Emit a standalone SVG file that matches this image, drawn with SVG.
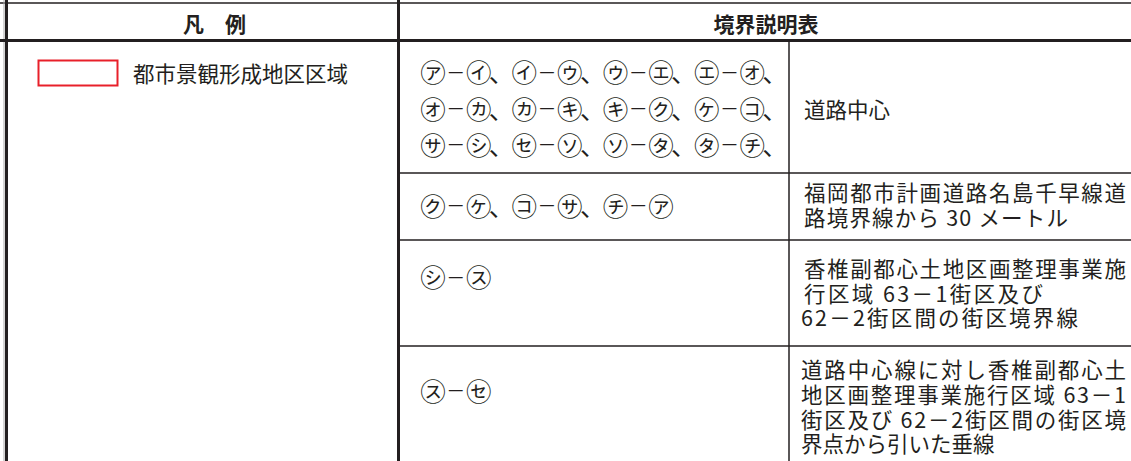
<svg xmlns="http://www.w3.org/2000/svg" width="1131" height="461" viewBox="0 0 1131 461">
<style>
.t{font-family:"Noto Sans CJK JP","Noto Sans CJK SC",sans-serif;font-size:21.5px;fill:#231f20}
.k{font-family:"Noto Sans CJK JP","Noto Sans CJK SC",sans-serif;font-size:25.5px;fill:#231f20}
.d{font-size:19px}
.h{font-family:"Noto Sans CJK JP","Noto Sans CJK SC",sans-serif;font-size:21px;font-weight:bold;fill:#231f20}
.thick{stroke:#231f20;stroke-width:3;fill:none}
.thin{stroke:#231f20;stroke-width:1.5;fill:none}
</style>
<rect width="1131" height="461" fill="#fff"/>
<g id="grid">
<line x1="0" y1="3" x2="1131" y2="3" class="thin" stroke-width="2"/>
<line x1="4" y1="0" x2="4" y2="461" stroke="#aaa" stroke-width="1"/>
<line x1="6.5" y1="0" x2="6.5" y2="461" class="thick" stroke-width="2.5"/>
<line x1="0" y1="40.5" x2="1131" y2="40.5" class="thick"/>
<line x1="398.5" y1="0" x2="398.5" y2="461" class="thick" stroke-width="2.5"/>
<line x1="789" y1="40" x2="789" y2="461" class="thin" stroke-width="1.3"/>
<line x1="398" y1="173" x2="1131" y2="173" class="thin"/>
<line x1="398" y1="240" x2="1131" y2="240" class="thin"/>
<line x1="398" y1="346" x2="1131" y2="346" class="thin"/>
</g>
<g id="header-legend">
<text x="183" y="32" class="h">凡</text>
<text x="225" y="32" class="h">例</text>
</g>
<g id="header-table">
<text x="766" y="32" class="h" text-anchor="middle">境界説明表</text>
</g>
<g id="legend">
<rect x="38.5" y="60.5" width="79" height="25" fill="none" stroke="#e8202a" stroke-width="2"/>
<text x="133" y="82" class="t" font-size="22">都市景観形成地区区域</text>
</g>
<g id="row1">
<text class="k"><tspan x="420.3" y="82.2">㋐</tspan><tspan class="d" x="446.3" y="79.7">－</tspan><tspan x="465.9 488.7 511.5" y="82.2">㋑、㋑</tspan><tspan class="d" x="537.5" y="79.7">－</tspan><tspan x="557.1 579.9 602.7" y="82.2">㋒、㋒</tspan><tspan class="d" x="628.7" y="79.7">－</tspan><tspan x="648.3 671.1 693.9" y="82.2">㋓、㋓</tspan><tspan class="d" x="719.9" y="79.7">－</tspan><tspan x="739.5 762.3" y="82.2">㋔、</tspan></text>
<text class="k"><tspan x="420.3" y="118.5">㋔</tspan><tspan class="d" x="446.3" y="116">－</tspan><tspan x="465.9 488.7 511.5" y="118.5">㋕、㋕</tspan><tspan class="d" x="537.5" y="116">－</tspan><tspan x="557.1 579.9 602.7" y="118.5">㋖、㋖</tspan><tspan class="d" x="628.7" y="116">－</tspan><tspan x="648.3 671.1 693.9" y="118.5">㋗、㋘</tspan><tspan class="d" x="719.9" y="116">－</tspan><tspan x="739.5 762.3" y="118.5">㋙、</tspan></text>
<text class="k"><tspan x="420.3" y="154.8">㋚</tspan><tspan class="d" x="446.3" y="152.3">－</tspan><tspan x="465.9 488.7 511.5" y="154.8">㋛、㋝</tspan><tspan class="d" x="537.5" y="152.3">－</tspan><tspan x="557.1 579.9 602.7" y="154.8">㋞、㋞</tspan><tspan class="d" x="628.7" y="152.3">－</tspan><tspan x="648.3 671.1 693.9" y="154.8">㋟、㋟</tspan><tspan class="d" x="719.9" y="152.3">－</tspan><tspan x="739.5 762.3" y="154.8">㋠、</tspan></text>
<text x="804" y="118" class="t">道路中心</text>
</g>
<g id="row2">
<text class="k"><tspan x="420.3" y="215.7">㋗</tspan><tspan class="d" x="446.3" y="213.2">－</tspan><tspan x="465.9 488.7 511.5" y="215.7">㋘、㋙</tspan><tspan class="d" x="537.5" y="213.2">－</tspan><tspan x="557.1 579.9 602.7" y="215.7">㋚、㋠</tspan><tspan class="d" x="628.7" y="213.2">－</tspan><tspan x="648.3" y="215.7">㋐</tspan></text>
<text x="804" y="201" class="t" textLength="322" lengthAdjust="spacing">福岡都市計画道路名島千早線道</text>
<text x="804" y="226" class="t" textLength="264" lengthAdjust="spacing">路境界線から 30 メートル</text>
</g>
<g id="row3">
<text class="k"><tspan x="420.3" y="287.2">㋛</tspan><tspan class="d" x="446.3" y="284.7">－</tspan><tspan x="465.9" y="287.2">㋜</tspan></text>
<text x="804" y="277" class="t" textLength="322" lengthAdjust="spacing">香椎副都心土地区画整理事業施</text>
<text x="804" y="302" class="t" textLength="239" lengthAdjust="spacing">行区域 63－1街区及び</text>
<text x="801" y="326" class="t" textLength="277" lengthAdjust="spacing">62－2街区間の街区境界線</text>
</g>
<g id="row4">
<text class="k"><tspan x="420.3" y="400.7">㋜</tspan><tspan class="d" x="446.3" y="398.2">－</tspan><tspan x="465.9" y="400.7">㋝</tspan></text>
<text x="801" y="378" class="t" textLength="325" lengthAdjust="spacing">道路中心線に対し香椎副都心土</text>
<text x="801" y="403" class="t" textLength="325" lengthAdjust="spacing">地区画整理事業施行区域 63－1</text>
<text x="801" y="427.5" class="t" textLength="325" lengthAdjust="spacing">街区及び 62－2街区間の街区境</text>
<text x="801" y="451.5" class="t">界点から引いた垂線</text>
</g>
</svg>
